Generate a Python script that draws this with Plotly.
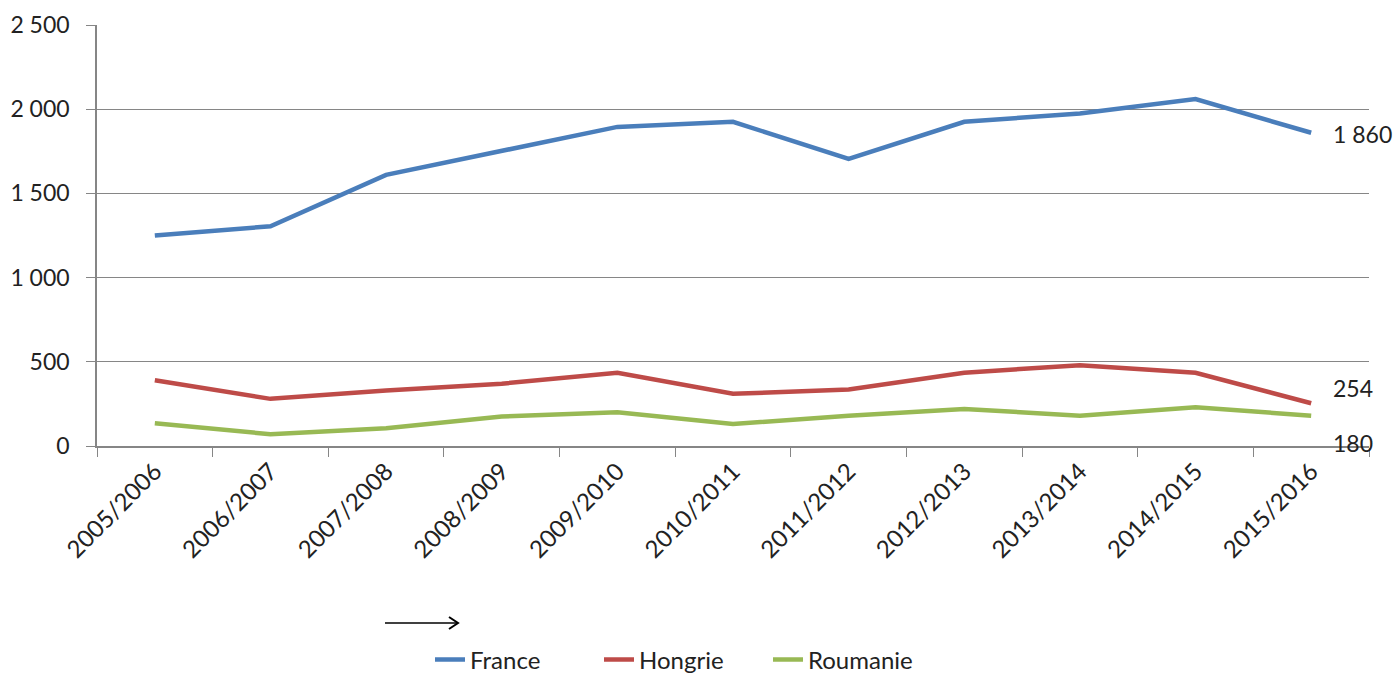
import plotly.graph_objects as go

seasons = ["2005/2006", "2006/2007", "2007/2008", "2008/2009", "2009/2010", "2010/2011",
           "2011/2012", "2012/2013", "2013/2014", "2014/2015", "2015/2016"]
france = [1250, 1305, 1610, 1750, 1895, 1925, 1705, 1925, 1975, 2060, 1860]
hongrie = [390, 280, 330, 370, 435, 310, 335, 435, 480, 435, 254]
roumanie = [135, 70, 105, 175, 200, 130, 180, 220, 180, 230, 180]

series = [("France", france, "#4A7EBB"), ("Hongrie", hongrie, "#BE4B48"), ("Roumanie", roumanie, "#98B954")]
FONT = "Lato"

fig = go.Figure()
for name, vals, col in series:
    fig.add_trace(go.Scatter(x=seasons, y=vals, mode="lines", name=name,
                             line=dict(color=col, width=4.5)))

def fmt(v):
    return f"{v:,}".replace(",", " ")

# end labels
label_shift = {"France": -1, "Hongrie": 15, "Roumanie": -27}
for name, vals, col in series:
    fig.add_annotation(x=seasons[-1], y=vals[-1], xref="x", yref="y", text=fmt(vals[-1]),
                       showarrow=False, xanchor="left", yanchor="middle", xshift=20,
                       yshift=label_shift[name], font=dict(family=FONT, size=23, color="#222222"))

# plot area in px: x 97..1369, y 25..446
L, R, T, B = 97, 1369, 25, 446
def px(xp):
    return (xp - L) / (R - L)
def py(yp):
    return (B - yp) / (B - T)

# arrow
fig.add_shape(type="line", xref="paper", yref="paper", x0=px(385), x1=px(458), y0=py(623), y1=py(623),
              line=dict(color="black", width=1.5))
fig.add_shape(type="path", xref="paper", yref="paper",
              path=f"M {px(449)},{py(617)} L {px(458)},{py(623)} L {px(449)},{py(629)}",
              line=dict(color="black", width=2))

fig.update_layout(
    width=1397, height=673,
    margin=dict(l=L, r=1397 - R, t=T, b=673 - B, autoexpand=False),
    plot_bgcolor="white", paper_bgcolor="white",
    separators=", ",
    font=dict(family=FONT, size=22, color="#222222"),
    showlegend=True,
    legend=dict(orientation="h", x=px(430), xanchor="left", y=py(660), yanchor="middle",
                font=dict(family=FONT, size=24, color="#222222"),
                entrywidth=124, entrywidthmode="pixels",
                bgcolor="rgba(0,0,0,0)"),
    xaxis=dict(type="category", showgrid=False, showline=True, linecolor="#868686", linewidth=1.5,
               ticks="outside", tickson="boundaries", ticklen=9, tickcolor="#868686",
               tickangle=-45, tickfont=dict(family=FONT, size=24, color="#222222"),
               range=[-0.5, len(seasons) - 0.5]),
    yaxis=dict(range=[0, 2500], tickvals=[0, 500, 1000, 1500, 2000, 2500], tickformat=",d",
               showgrid=True, gridcolor="#868686", gridwidth=1.2, zeroline=False,
               showline=True, linecolor="#868686", linewidth=1.5,
               ticks="outside", ticklen=9, tickcolor="#868686", ticklabelstandoff=12,
               tickfont=dict(family=FONT, size=23, color="#222222")),
)

fig.write_html("out.html", config={"displayModeBar": False},
               post_script="document.body.style.margin='0';document.body.style.overflow='hidden';")
